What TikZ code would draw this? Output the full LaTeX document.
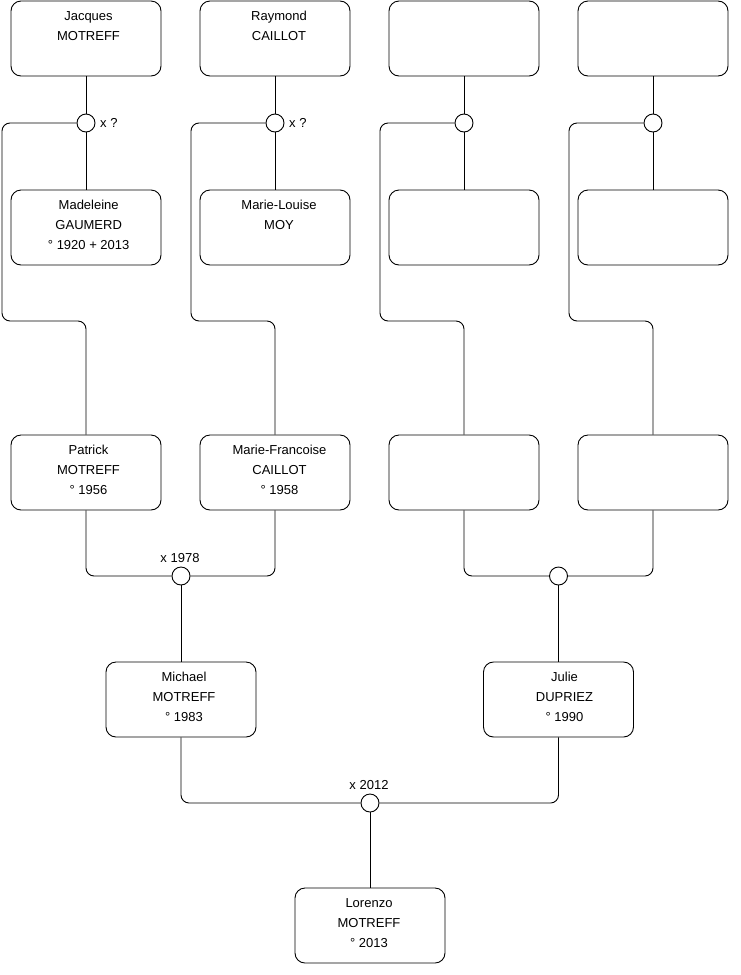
\documentclass[tikz,border=0pt]{standalone}
\usepackage{fontspec}
\setmainfont{Liberation Sans}
\begin{document}
\begin{tikzpicture}[x=1pt,y=-1pt,
  pbox/.style={draw=black, line width=0.9pt, fill=white, rounded corners=10pt, minimum width=150pt, minimum height=75pt, inner sep=0pt},
  ptext/.style={anchor=north, yshift=-10.8pt, align=center, inner sep=0pt, font=\fontsize{13}{20}\selectfont, execute at begin node={\rule{0pt}{12pt}}},
  wed/.style={draw=black, line width=0.9pt, fill=white, circle, minimum size=18pt, inner sep=0pt},
  lbl/.style={inner sep=0pt, font=\fontsize{13}{14}\selectfont},
  link/.style={draw=black, line width=0.9pt, rounded corners=8pt}]
\useasboundingbox (0,0) rectangle (740,975);
% row 1
\node[pbox, label={[ptext, xshift=2.5pt]north:{Jacques\\MOTREFF}}] (a1) at (86,38.5) {};
\node[pbox, label={[ptext, xshift=4pt]north:{Raymond\\CAILLOT}}] (a2) at (275,38.5) {};
\node[pbox] (a3) at (464,38.5) {};
\node[pbox] (a4) at (653,38.5) {};
% row 2
\node[pbox, label={[ptext, xshift=2.7pt]north:{Madeleine\\GAUMERD\\° 1920 + 2013}}] (b1) at (86,227.5) {};
\node[pbox, label={[ptext, xshift=4pt]north:{Marie-Louise\\MOY}}] (b2) at (275,227.5) {};
\node[pbox] (b3) at (464,227.5) {};
\node[pbox] (b4) at (653,227.5) {};
% row 3
\node[pbox, label={[ptext, xshift=2.5pt]north:{Patrick\\MOTREFF\\° 1956}}] (p1) at (86,472.5) {};
\node[pbox, label={[ptext, xshift=4.5pt]north:{Marie-Francoise\\CAILLOT\\° 1958}}] (p2) at (275,472.5) {};
\node[pbox] (p3) at (464,472.5) {};
\node[pbox] (p4) at (653,472.5) {};
% row 4
\node[pbox, label={[ptext, xshift=3pt]north:{Michael\\MOTREFF\\° 1983}}] (c1) at (181,699.5) {};
\node[pbox, label={[ptext, xshift=6pt]north:{Julie\\DUPRIEZ\\° 1990}}] (c2) at (558.5,699.5) {};
% row 5
\node[pbox, label={[ptext, xshift=-1pt]north:{Lorenzo\\MOTREFF\\° 2013}}] (lo) at (370,925.5) {};
% marriage circles
\node[wed] (m1) at (86,123) {};
\node[wed] (m2) at (275,123) {};
\node[wed] (m3) at (464,123) {};
\node[wed] (m4) at (653,123) {};
\node[wed] (n1) at (181,576) {};
\node[wed] (n2) at (558.5,576) {};
\node[wed] (n3) at (370,803) {};
% labels
\node[lbl, anchor=west] (l1) at (100,123) {x ?};
\node[lbl, anchor=west] (l2) at (289,123) {x ?};
\node[lbl] (l3) at (180,558) {x 1978};
\node[lbl] (l4) at (369,785) {x 2012};
% waypoints
\coordinate (w1) at (2,321);
\coordinate (w2) at (191,321);
\coordinate (w3) at (380,321);
\coordinate (w4) at (569,321);
% connectors generation 1
\foreach \i in {1,2,3,4}{
  \draw[link] (a\i.south) -- (m\i.north);
  \draw[link] (m\i.south) -- (b\i.north);
  \draw[link] (m\i.west) -| (w\i) -| (p\i.north);
}
% generation 2
\draw[link] (p1.south) |- (n1.west);
\draw[link] (p2.south) |- (n1.east);
\draw[link] (n1.south) -- (c1.north);
\draw[link] (p3.south) |- (n2.west);
\draw[link] (p4.south) |- (n2.east);
\draw[link] (n2.south) -- (c2.north);
% generation 3
\draw[link] (c1.south) |- (n3.west);
\draw[link] (c2.south) |- (n3.east);
\draw[link] (n3.south) -- (lo.north);
\end{tikzpicture}
\end{document}
